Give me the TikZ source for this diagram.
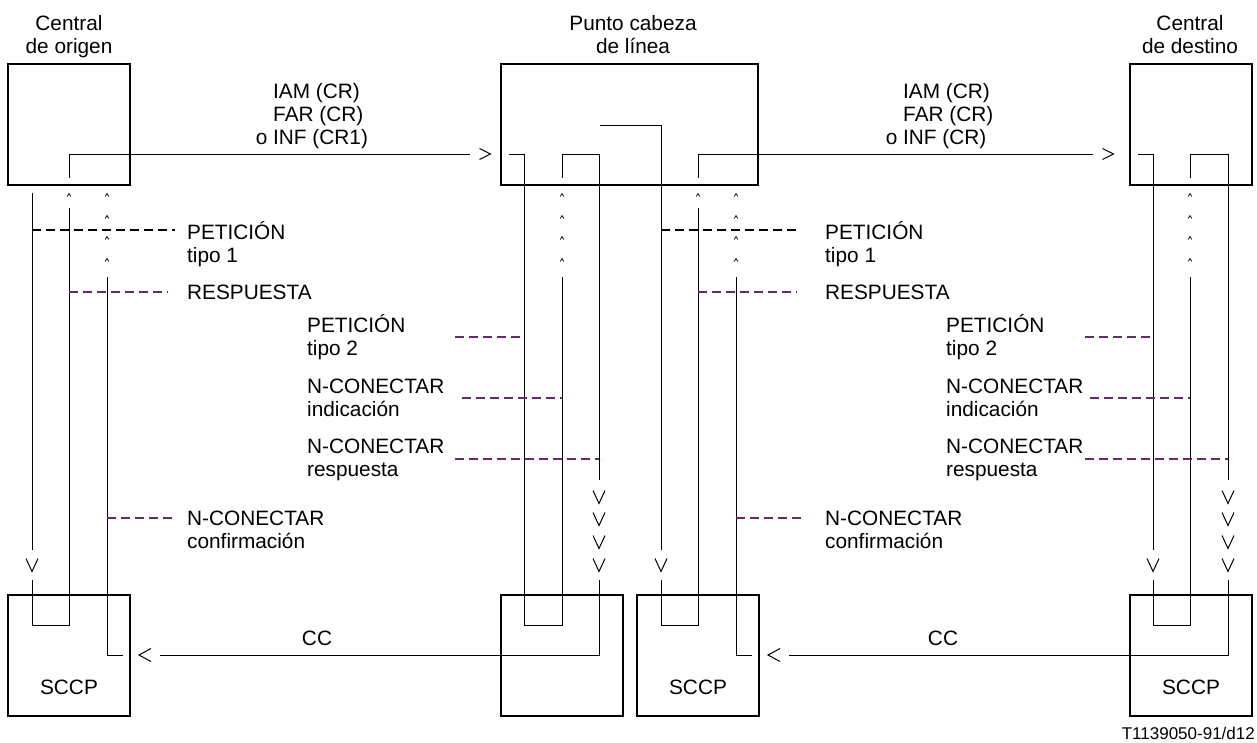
\documentclass[tikz,border=0pt]{standalone}
\usepackage{fontspec}
\setmainfont{Liberation Sans}
\usetikzlibrary{positioning}
\definecolor{primcol}{HTML}{66286E}
\tikzset{
  unitbox/.style={rectangle, draw=black, line width=1.1pt, inner sep=0pt,
    minimum width=#1, minimum height=121pt},
  unitbox/.default=122pt,
  sig/.style={line width=1pt},
  req/.style={line width=1.2pt, dash pattern=on 9pt off 5pt},
  primline/.style={req, draw=primcol},
  msg/.style={font=\fontsize{20.8}{23}\selectfont, align=left,
    inner sep=0pt, anchor=base west},
  hdr/.style={font=\fontsize{20.8}{23}\selectfont, align=center,
    inner sep=0pt, anchor=base},
  chevdown/.pic={\draw[sig] (-6,-6.5) -- (0,6.5) -- (6,-6.5);},
  chevright/.pic={\draw[sig] (-5.5,-5.5) -- (5.5,0) -- (-5.5,5.5);},
  chevleft/.pic={\draw[sig] (6,-6.5) -- (-6,0) -- (6,6.5);},
  caret/.pic={\draw[line width=0.7pt] (-1.8,1.5) -- (0,-1.5) -- (1.8,1.5);},
}
\begin{document}
\begin{tikzpicture}[x=1pt, y=-1pt]
  \useasboundingbox (0,0) rectangle (1257,742);

  % exchanges (top) and SCCP (bottom)
  \node[unitbox] (orig) at (69,124.5) {};
  \node[unitbox=257pt] (cab) at (629.5,124.5) {};
  \node[unitbox] (dest) at (1191,124.5) {};
  \node[unitbox] (sccpA) at (69,655.5) {};
  \node[unitbox] (sccpB) at (562,655.5) {};
  \node[unitbox] (sccpC) at (698,655.5) {};
  \node[unitbox] (sccpD) at (1191,655.5) {};

  % multi-line nodes sit on the baseline of their last line
  \node[hdr] (origtxt) at (69,53) {Central\\de origen};
  \node[hdr] (cabtxt) at (633,53) {Punto cabeza\\de línea};
  \node[hdr] (desttxt) at (1190,53) {Central\\de destino};
  \node[hdr] (sccpAtxt) at (69,694) {SCCP};
  \node[hdr] (sccpCtxt) at (698,694) {SCCP};
  \node[hdr] (sccpDtxt) at (1191,694) {SCCP};

  % origin -> line head
  \draw[sig] (32,193) -- (32,550);
  \pic at (32,565) {chevdown};
  \draw[sig] (32,580) -- (32,625) -- (69,625) -- (69,208);
  \pic at (69,195) {caret};
  \draw[sig] (69,178) -- (69,154) -- (470,154);
  \pic at (485,154) {chevright};
  \draw[sig] (509,154) -- (524,154) -- (524,625) -- (562,625) -- (562,277);
  \foreach \y in {195,217,238,260} \pic at (562,\y) {caret};
  \draw[sig] (562,178) -- (562,154) -- (599,154) -- (599,480);
  \foreach \y in {497,519,542,565} \pic at (599,\y) {chevdown};
  \draw[sig] (599,580) -- (599,655) -- (160,655);
  \pic at (145,655) {chevleft};
  \draw[sig] (123,655) -- (107,655) -- (107,277);
  \foreach \y in {195,217,238,260} \pic at (107,\y) {caret};

  % line head -> destination
  \draw[sig] (600,125) -- (661,125) -- (661,550);
  \pic at (661,565) {chevdown};
  \draw[sig] (661,580) -- (661,625) -- (698,625) -- (698,208);
  \pic at (698,195) {caret};
  \draw[sig] (698,178) -- (698,154) -- (1093,154);
  \pic at (1108,154) {chevright};
  \draw[sig] (1138,154) -- (1153,154) -- (1153,550);
  \pic at (1153,565) {chevdown};
  \draw[sig] (1153,580) -- (1153,625) -- (1190,625) -- (1190,277);
  \foreach \y in {195,217,238,260} \pic at (1190,\y) {caret};
  \draw[sig] (1190,178) -- (1190,154) -- (1228,154) -- (1228,480);
  \foreach \y in {497,519,542,565} \pic at (1228,\y) {chevdown};
  \draw[sig] (1228,580) -- (1228,655) -- (789,655);
  \pic at (774,655) {chevleft};
  \draw[sig] (752,655) -- (736,655) -- (736,277);
  \foreach \y in {195,217,238,260} \pic at (736,\y) {caret};

  % primitives
  \draw[req] (32,230) -- (175,230);
  \draw[primline] (69,292) -- (168,292);
  \draw[primline] (455,337) -- (524,337);
  \draw[primline] (462,398) -- (562,398);
  \draw[primline] (455,459) -- (599,459);
  \draw[primline] (107,518) -- (175,518);
  \draw[req] (661,230) -- (797,230);
  \draw[primline] (698,292) -- (797,292);
  \draw[primline] (1085,337) -- (1153,337);
  \draw[primline] (1090,398) -- (1190,398);
  \draw[primline] (1085,459) -- (1228,459);
  \draw[primline] (736,518) -- (805,518);

  % labels
  \node[msg] (iamA) at (273,144) {IAM (CR)\\FAR (CR)\\\llap{o }INF (CR1)};
  \node[msg] (iamB) at (903,144) {IAM (CR)\\FAR (CR)\\\llap{o }INF (CR)};
  \node[msg] (petA) at (187,262) {PETICIÓN\\tipo 1};
  \node[msg] (respA) at (187,299) {RESPUESTA};
  \node[msg] (pettwoA) at (307,355) {PETICIÓN\\tipo 2};
  \node[msg] (indA) at (307,416) {N-CONECTAR\\indicación};
  \node[msg] (rspA) at (307,476) {N-CONECTAR\\respuesta};
  \node[msg] (confA) at (187,548) {N-CONECTAR\\confirmación};
  \node[msg] (petB) at (825,262) {PETICIÓN\\tipo 1};
  \node[msg] (respB) at (825,299) {RESPUESTA};
  \node[msg] (pettwoB) at (946,355) {PETICIÓN\\tipo 2};
  \node[msg] (indB) at (946,416) {N-CONECTAR\\indicación};
  \node[msg] (rspB) at (946,476) {N-CONECTAR\\respuesta};
  \node[msg] (confB) at (825,548) {N-CONECTAR\\confirmación};
  \node[hdr] (ccA) at (317,645) {CC};
  \node[hdr] (ccB) at (943,645) {CC};

  \node[font=\fontsize{17}{20}\selectfont, inner sep=0pt, anchor=base east]
    (figcode) at (1255,739) {T1139050-91/d12};
\end{tikzpicture}
\end{document}
